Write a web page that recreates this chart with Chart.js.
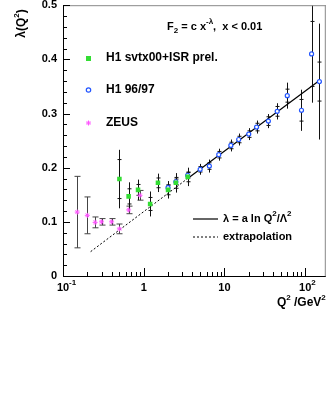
<!DOCTYPE html>
<html>
<head>
<meta charset="utf-8">
<script src="https://cdn.jsdelivr.net/npm/chart.js@4.4.0/dist/chart.umd.min.js"></script>
<style>
  html, body { margin: 0; padding: 0; background: #fff; }
  #wrap { width: 331px; height: 413px; }
</style>
</head>
<body>
<div id="wrap"><canvas id="lambdaChart" width="331" height="413"></canvas></div>
<script>
// ZEUS
const zeusQ2 = [0.15, 0.2, 0.25, 0.3, 0.4, 0.5, 0.65, 0.9];
const zeusLambda = [0.118, 0.112, 0.099, 0.100, 0.100, 0.087, 0.122, 0.149];
const zeusErr = [0.066, 0.034, 0.010, 0.006, 0.006, 0.009, 0.007, 0.009];

// H1 svtx00+ISR prel.
const svtxQ2 = [0.5, 0.65, 0.85, 1.2, 1.5, 2.0, 2.5, 3.5];
const svtxLambda = [0.179, 0.147, 0.159, 0.133, 0.172, 0.159, 0.172, 0.183];
const svtxErr = [0.054, 0.026, 0.019, 0.023, 0.017, 0.016, 0.018, 0.017];
const svtxStat = [0.036, 0.014, 0.010, 0.012, 0.009, 0.009, 0.010, 0.009];

// H1 96/97
const h1Q2 = [2.0, 2.5, 3.5, 5, 6.5, 8.5, 12, 15, 20, 25, 35, 45, 60, 90, 120, 150];
const h1Lambda = [0.163, 0.174, 0.186, 0.197, 0.203, 0.224, 0.241, 0.252, 0.262, 0.275, 0.286, 0.304, 0.333, 0.306, 0.410, 0.359];
const h1Err = [0.012, 0.012, 0.012, 0.010, 0.012, 0.011, 0.011, 0.011, 0.011, 0.012, 0.013, 0.015, 0.024, 0.038, 0.090, 0.107];
const h1Stat = [0.005, 0.005, 0.005, 0.005, 0.006, 0.006, 0.006, 0.006, 0.006, 0.007, 0.008, 0.009, 0.012, 0.020, 0.060, 0.036];

// fit lambda = a ln Q2/Lambda2 (straight in log Q2) and its extrapolation
const fitQ2 = [3.5, 150];
const fitLambda = [0.180, 0.361];
const extrapQ2 = [0.22, 3.5];
const extrapLambda = [0.045, 0.180];

// axes
const xRange = [0.1, 180];
const yRange = [0, 0.5];
const yMajor = [0, 0.1, 0.2, 0.3, 0.4, 0.5];
const xMajor = [0.1, 1, 10, 100];
const xLabels = [['10', '-1'], ['1', ''], ['10', ''], ['10', '2']];

const FONT = '"Liberation Sans", Arial, Helvetica, sans-serif';
const toPts = (xs, ys) => xs.map((x, i) => ({ x: x, y: ys[i] }));

// texte avec exposants
const drawRich = (ctx, parts, x, y, size, align) => {
    const supSize = Math.round(size * 0.7);
    let w = 0;
    parts.forEach(p => {
        ctx.font = 'bold ' + (p.sup || p.sub ? supSize : size) + 'px ' + FONT;
        w += ctx.measureText(p.t).width;
    });
    let cx = align === 'right' ? x - w : (align === 'center' ? x - w / 2 : x);
    ctx.textBaseline = 'middle';
    ctx.textAlign = 'left';
    parts.forEach(p => {
        ctx.font = 'bold ' + (p.sup || p.sub ? supSize : size) + 'px ' + FONT;
        ctx.fillText(p.t, cx, p.sup ? y - size * 0.45 : (p.sub ? y + size * 0.3 : y));
        cx += ctx.measureText(p.t).width;
    });
};

// barres d'erreur
const errorBarsPlugin = {
    id: 'errorBars',
    beforeDatasetsDraw(chart) {
        const ctx = chart.ctx;
        const xs = chart.scales.x, ys = chart.scales.y;
        const area = chart.chartArea;
        ctx.save();
        ctx.beginPath();
        ctx.rect(area.left, area.top, area.right - area.left, area.bottom - area.top);
        ctx.clip();
        chart.data.datasets.forEach(ds => {
            if (!ds.errTot) return;
            ds.data.forEach((p, i) => {
                const px = Math.round(xs.getPixelForValue(p.x)) + 0.5;
                const y1 = ys.getPixelForValue(p.y + ds.errTot[i]);
                const y2 = ys.getPixelForValue(p.y - ds.errTot[i]);
                ctx.strokeStyle = ds.errColor;
                ctx.lineWidth = 1;
                ctx.beginPath();
                ctx.moveTo(px, y1);
                ctx.lineTo(px, y2);
                if (ds.caps) {
                    ctx.moveTo(px - 3, y1); ctx.lineTo(px + 3, y1);
                    ctx.moveTo(px - 3, y2); ctx.lineTo(px + 3, y2);
                }
                if (ds.errStat) {
                    const s1 = ys.getPixelForValue(p.y + ds.errStat[i]);
                    const s2 = ys.getPixelForValue(p.y - ds.errStat[i]);
                    ctx.moveTo(px - 2, s1); ctx.lineTo(px + 2, s1);
                    ctx.moveTo(px - 2, s2); ctx.lineTo(px + 2, s2);
                }
                ctx.stroke();
            });
        });
        ctx.restore();
    }
};

// cadre, graduations, textes
const framePlugin = {
    id: 'rootFrame',
    afterDraw(chart) {
        const ctx = chart.ctx;
        const xs = chart.scales.x, ys = chart.scales.y;
        const a = chart.chartArea;
        ctx.save();
        ctx.strokeStyle = '#888';
        ctx.lineWidth = 1;
        ctx.beginPath();
        ctx.moveTo(a.left, a.top + 0.5); ctx.lineTo(a.right, a.top + 0.5);
        ctx.moveTo(a.right - 0.5, a.top); ctx.lineTo(a.right - 0.5, a.bottom);
        ctx.stroke();

        ctx.strokeStyle = '#000';
        ctx.beginPath();
        ctx.moveTo(a.left + 0.5, a.top); ctx.lineTo(a.left + 0.5, a.bottom + 0.5);
        ctx.lineTo(a.right, a.bottom + 0.5);
        // y ticks
        for (let k = 0; k <= 25; k++) {
            const py = Math.round(ys.getPixelForValue(k * 0.02)) + 0.5;
            const len = k % 5 === 0 ? 7 : 4;
            ctx.moveTo(a.left, py); ctx.lineTo(a.left + len, py);
        }
        // x ticks
        xMajor.forEach(d => {
            for (let m = 1; m <= 9; m++) {
                const v = d * m;
                if (v < xRange[0] || v > xRange[1]) continue;
                const px = Math.round(xs.getPixelForValue(v)) + 0.5;
                const len = m === 1 ? 8 : 4;
                ctx.moveTo(px, a.bottom); ctx.lineTo(px, a.bottom - len);
            }
        });
        ctx.stroke();

        ctx.fillStyle = '#000';
        yMajor.forEach(v => {
            drawRich(ctx, [{ t: v === 0 ? '0' : v.toFixed(1) }], a.left - 6, ys.getPixelForValue(v), 11, 'right');
        });
        xMajor.forEach((v, i) => {
            const px = xs.getPixelForValue(v);
            const lab = xLabels[i];
            ctx.font = 'bold 11px ' + FONT;
            const w = ctx.measureText(lab[0]).width;
            drawRich(ctx, [{ t: lab[0] }, { t: lab[1], sup: true }], px - w / 2, a.bottom + 12, 11, 'left');
        });

        // titres des axes
        drawRich(ctx, [{ t: 'Q' }, { t: '2', sup: true }, { t: ' /GeV' }, { t: '2', sup: true }], a.right, a.bottom + 27, 12, 'right');
        ctx.save();
        ctx.translate(22, a.top + 4);
        ctx.rotate(-Math.PI / 2);
        drawRich(ctx, [{ t: 'λ(Q' }, { t: '2', sup: true }, { t: ')' }], 0, 0, 12, 'right');
        ctx.restore();

        // formule
        drawRich(ctx, [{ t: 'F' }, { t: '2', sub: true }, { t: ' = c x' }, { t: '-λ', sup: true }, { t: ',  x < 0.01' }], 167, 27, 11, 'left');

        // légende gauche
        ctx.fillStyle = '#33dd33';
        ctx.fillRect(86, 56, 5, 5);
        ctx.strokeStyle = '#2255ff';
        ctx.lineWidth = 1.2;
        ctx.beginPath(); ctx.arc(88.5, 90, 2.2, 0, Math.PI * 2); ctx.stroke();
        ctx.strokeStyle = '#ff55ff';
        ctx.lineWidth = 1;
        ctx.beginPath();
        for (let k = 0; k < 4; k++) {
            const ang = k * Math.PI / 4;
            ctx.moveTo(88.5 - 2.5 * Math.cos(ang), 123 - 2.5 * Math.sin(ang));
            ctx.lineTo(88.5 + 2.5 * Math.cos(ang), 123 + 2.5 * Math.sin(ang));
        }
        ctx.stroke();
        ctx.fillStyle = '#000';
        drawRich(ctx, [{ t: 'H1 svtx00+ISR prel.' }], 106, 58, 12, 'left');
        drawRich(ctx, [{ t: 'H1 96/97' }], 106, 90, 12, 'left');
        drawRich(ctx, [{ t: 'ZEUS' }], 106, 123, 12, 'left');

        // légende droite
        ctx.strokeStyle = '#000';
        ctx.lineWidth = 1.2;
        ctx.beginPath(); ctx.moveTo(193, 219); ctx.lineTo(218, 219); ctx.stroke();
        ctx.lineWidth = 1;
        ctx.setLineDash([2, 2]);
        ctx.beginPath(); ctx.moveTo(193, 237); ctx.lineTo(218, 237); ctx.stroke();
        ctx.setLineDash([]);
        drawRich(ctx, [{ t: 'λ = a ln Q' }, { t: '2', sup: true }, { t: '/Λ' }, { t: '2', sup: true }], 223, 219, 11, 'left');
        drawRich(ctx, [{ t: 'extrapolation' }], 223, 237, 11, 'left');
        ctx.restore();
    }
};

const inicializarGrafico = () => {
    const ctx = document.getElementById('lambdaChart');
    new Chart(ctx, {
        type: 'scatter',
        data: {
            datasets: [
                {
                    label: 'ZEUS',
                    data: toPts(zeusQ2, zeusLambda),
                    errTot: zeusErr,
                    caps: true,
                    errColor: '#444',
                    pointStyle: 'star',
                    pointRadius: 2.5,
                    borderWidth: 1,
                    borderColor: '#ff55ff',
                    backgroundColor: '#ff55ff'
                },
                {
                    label: 'H1 svtx00+ISR prel.',
                    data: toPts(svtxQ2, svtxLambda),
                    errTot: svtxErr,
                    errStat: svtxStat,
                    errColor: '#111',
                    pointStyle: 'rect',
                    pointRadius: 3.2,
                    borderWidth: 0,
                    backgroundColor: '#33dd33'
                },
                {
                    label: 'H1 96/97',
                    data: toPts(h1Q2, h1Lambda),
                    errTot: h1Err,
                    errStat: h1Stat,
                    errColor: '#111',
                    pointStyle: 'circle',
                    pointRadius: 2,
                    borderWidth: 1.2,
                    borderColor: '#2255ff',
                    backgroundColor: '#ffffff'
                },
                {
                    label: 'fit',
                    data: toPts(fitQ2, fitLambda),
                    showLine: true,
                    pointRadius: 0,
                    borderColor: '#000',
                    borderWidth: 1.2
                },
                {
                    label: 'extrapolation',
                    data: toPts(extrapQ2, extrapLambda),
                    showLine: true,
                    pointRadius: 0,
                    borderColor: '#000',
                    borderWidth: 1,
                    borderDash: [2, 2]
                }
            ]
        },
        options: {
            responsive: false,
            animation: false,
            layout: { padding: { left: 63, right: 2, top: 4, bottom: 137 } },
            scales: {
                x: { type: 'logarithmic', min: xRange[0], max: xRange[1], display: false },
                y: { type: 'linear', min: yRange[0], max: yRange[1], display: false }
            },
            plugins: {
                legend: { display: false },
                tooltip: { enabled: false }
            }
        },
        plugins: [errorBarsPlugin, framePlugin]
    });
};

if (document.readyState === 'loading') {
    document.addEventListener('DOMContentLoaded', inicializarGrafico);
} else {
    inicializarGrafico();
}
</script>
</body>
</html>
